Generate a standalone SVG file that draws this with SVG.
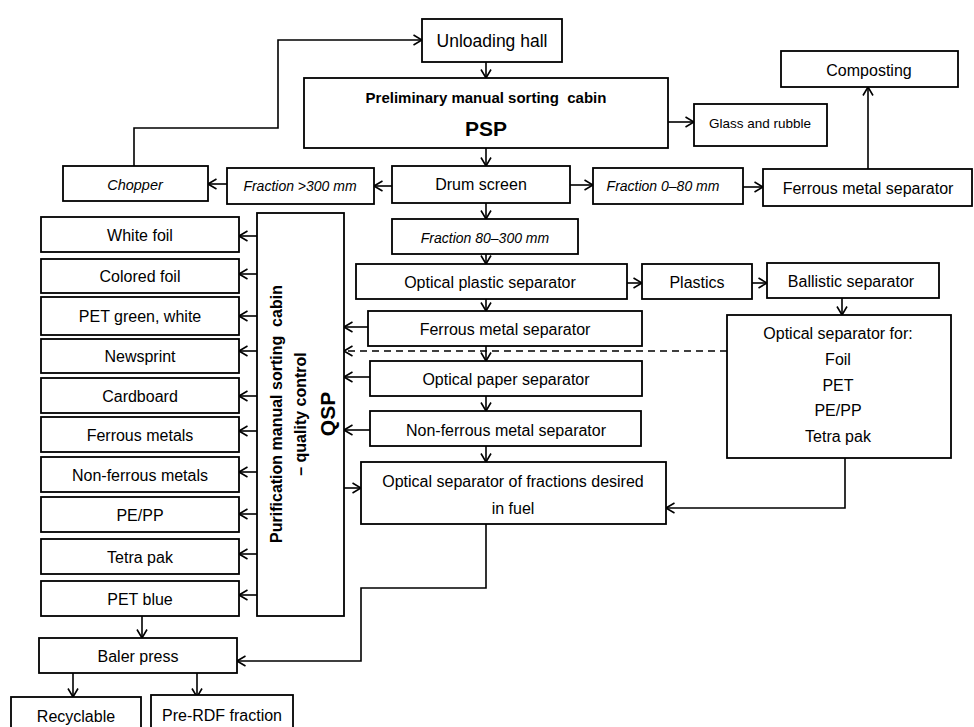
<svg xmlns="http://www.w3.org/2000/svg" width="974" height="727" viewBox="0 0 974 727">
<defs>
<marker id="a" viewBox="0 0 10 12" refX="9.5" refY="6" markerWidth="10" markerHeight="12" orient="auto" markerUnits="userSpaceOnUse"><path d="M1,1 L9.5,6 L1,11" fill="none" stroke="#000" stroke-width="1.6"/></marker>
</defs>
<style>
rect{fill:#fff;stroke:#000;stroke-width:1.8}
text{font-family:"Liberation Sans",Arial,sans-serif;font-size:16px;fill:#000;text-anchor:middle}
.i{font-style:italic;font-size:14px}
.b{font-weight:bold}
.s{font-size:13.5px}
#conn path{fill:none;stroke:#000;stroke-width:1.6}
#conn .d{stroke-dasharray:7,5}
</style>
<rect x="0" y="0" width="974" height="727" style="stroke:none"/>
<g id="conn">
<path d="M486,62 V78" marker-end="url(#a)"/>
<path d="M668,122 H694" marker-end="url(#a)"/>
<path d="M486,148 V166" marker-end="url(#a)"/>
<path d="M868,169 V87" marker-end="url(#a)"/>
<path d="M570,185 H593" marker-end="url(#a)"/>
<path d="M743,187 H763" marker-end="url(#a)"/>
<path d="M392,186 H374" marker-end="url(#a)"/>
<path d="M227,184 H208" marker-end="url(#a)"/>
<path d="M134,166 V128 H278 V40 H422" marker-end="url(#a)"/>
<path d="M486,203 V219" marker-end="url(#a)"/>
<path d="M486,254 V264" marker-end="url(#a)"/>
<path d="M627,283 H642" marker-end="url(#a)"/>
<path d="M752,283 H767" marker-end="url(#a)"/>
<path d="M842,298 V315" marker-end="url(#a)"/>
<path d="M486,299 V311" marker-end="url(#a)"/>
<path d="M486,346 V361" marker-end="url(#a)"/>
<path d="M486,396 V411" marker-end="url(#a)"/>
<path d="M486,446 V462" marker-end="url(#a)"/>
<path d="M368,327 H344" marker-end="url(#a)"/>
<path class="d" d="M727,351 H344" marker-end="url(#a)"/>
<path d="M370,377 H344" marker-end="url(#a)"/>
<path d="M370,430 H344" marker-end="url(#a)"/>
<path d="M344,488 H361" marker-end="url(#a)"/>
<path d="M845,458 V508 H666" marker-end="url(#a)"/>
<path d="M486,524 V588 H361 V661 H237" marker-end="url(#a)"/>
<path d="M257,236 H239" marker-end="url(#a)"/>
<path d="M257,274 H239" marker-end="url(#a)"/>
<path d="M257,316 H239" marker-end="url(#a)"/>
<path d="M257,351 H239" marker-end="url(#a)"/>
<path d="M257,396 H239" marker-end="url(#a)"/>
<path d="M257,431 H239" marker-end="url(#a)"/>
<path d="M257,472 H239" marker-end="url(#a)"/>
<path d="M257,514 H239" marker-end="url(#a)"/>
<path d="M257,554 H239" marker-end="url(#a)"/>
<path d="M257,595 H239" marker-end="url(#a)"/>
<path d="M142,616 V638" marker-end="url(#a)"/>
<path d="M73,673 V697" marker-end="url(#a)"/>
<path d="M197,673 V697" marker-end="url(#a)"/>
</g>
<g id="unloading"><rect x="422" y="19" width="140" height="43"/><text x="492" y="47" style="font-size:17.5px">Unloading hall</text></g>
<g id="psp"><rect x="304" y="78" width="364" height="70"/><text x="486" y="103" class="b" style="font-size:15px" xml:space="preserve">Preliminary manual sorting  cabin</text><text x="486" y="136" class="b" style="font-size:21px">PSP</text></g>
<g id="glass"><rect x="694" y="104" width="133" height="42"/><text x="760" y="128" class="s">Glass and rubble</text></g>
<g id="composting"><rect x="781" y="51" width="177" height="36"/><text x="869" y="76">Composting</text></g>
<g id="ferrous-right"><rect x="763" y="169" width="209" height="37"/><text x="868" y="194">Ferrous metal separator</text></g>
<g id="drum"><rect x="392" y="166" width="178" height="37"/><text x="481" y="190">Drum screen</text></g>
<g id="f080"><rect x="593" y="168" width="150" height="36"/><text x="663" y="191" class="i">Fraction 0–80 mm</text></g>
<g id="f300"><rect x="227" y="168" width="147" height="36"/><text x="300" y="191" class="i">Fraction &gt;300 mm</text></g>
<g id="chopper"><rect x="63" y="166" width="145" height="35"/><text x="135" y="190" class="i" style="font-size:14.5px">Chopper</text></g>
<g id="f80300"><rect x="392" y="219" width="186" height="35"/><text x="485" y="243" class="i">Fraction 80–300 mm</text></g>
<g id="opt-plastic"><rect x="356" y="264" width="271" height="35"/><text x="490" y="288">Optical plastic separator</text></g>
<g id="plastics"><rect x="642" y="264" width="110" height="35"/><text x="697" y="288">Plastics</text></g>
<g id="ballistic"><rect x="767" y="263" width="172" height="35"/><text x="851" y="287">Ballistic separator</text></g>
<g id="ferrous-mid"><rect x="368" y="311" width="274" height="35"/><text x="505" y="335">Ferrous metal separator</text></g>
<g id="opt-paper"><rect x="370" y="361" width="272" height="35"/><text x="506" y="385">Optical paper separator</text></g>
<g id="nonferrous"><rect x="370" y="411" width="271" height="35"/><text x="506" y="436">Non-ferrous metal separator</text></g>
<g id="opt-fuel"><rect x="361" y="462" width="305" height="62"/><text x="513" y="487">Optical separator of fractions desired</text><text x="513" y="514">in fuel</text></g>
<g id="opt-for"><rect x="727" y="315" width="224" height="143"/><text x="838" y="339">Optical separator for:</text><text x="838" y="365">Foil</text><text x="838" y="391">PET</text><text x="838" y="416">PE/PP</text><text x="838" y="442">Tetra pak</text></g>
<g id="qsp"><rect x="257" y="213" width="87" height="403"/>
<text transform="translate(282,414) rotate(-90)" class="b" style="font-size:16px" xml:space="preserve">Purification manual sorting  cabin</text>
<text transform="translate(306,414) rotate(-90)" class="b" style="font-size:16px">– quality control</text>
<text transform="translate(335,414) rotate(-90)" class="b" style="font-size:21px">QSP</text></g>
<g id="white-foil"><rect x="41" y="217" width="198" height="35"/><text x="140" y="241">White foil</text></g>
<g id="colored-foil"><rect x="41" y="259" width="198" height="34"/><text x="140" y="282">Colored foil</text></g>
<g id="pet-green"><rect x="41" y="297" width="198" height="38"/><text x="140" y="322">PET green, white</text></g>
<g id="newsprint"><rect x="41" y="339" width="198" height="34"/><text x="140" y="362">Newsprint</text></g>
<g id="cardboard"><rect x="41" y="378" width="198" height="35"/><text x="140" y="402">Cardboard</text></g>
<g id="ferrous-metals"><rect x="41" y="417" width="198" height="35"/><text x="140" y="441">Ferrous metals</text></g>
<g id="nonferrous-metals"><rect x="41" y="457" width="198" height="35"/><text x="140" y="481">Non-ferrous metals</text></g>
<g id="pepp"><rect x="41" y="497" width="198" height="35"/><text x="140" y="521">PE/PP</text></g>
<g id="tetra"><rect x="41" y="539" width="198" height="35"/><text x="140" y="563">Tetra pak</text></g>
<g id="pet-blue"><rect x="41" y="581" width="198" height="35"/><text x="140" y="605">PET blue</text></g>
<g id="baler"><rect x="39" y="638" width="198" height="35"/><text x="138" y="662">Baler press</text></g>
<g id="recyclable"><rect x="11" y="697" width="130" height="40"/><text x="76" y="722">Recyclable</text></g>
<g id="prerdf"><rect x="151" y="695" width="142" height="42"/><text x="222" y="721">Pre-RDF fraction</text></g>
</svg>
